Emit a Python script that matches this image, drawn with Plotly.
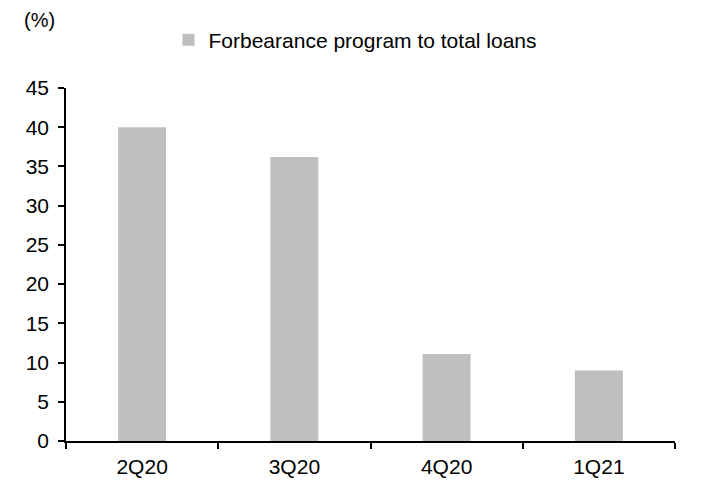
import plotly.graph_objects as go

categories = ["2Q20", "3Q20", "4Q20", "1Q21"]
values = [40.0, 36.2, 11.1, 9.0]
series_name = "Forbearance program to total loans"
y_ticks = [0, 5, 10, 15, 20, 25, 30, 35, 40, 45]

FONT = "Liberation Sans, Arial, sans-serif"

L, R, T, B = 66, 32, 88, 41
W, H = 707, 482
PW, PH = W - L - R, H - T - B

fig = go.Figure()
fig.add_trace(go.Bar(
    x=categories, y=values, name=series_name,
    marker=dict(color="#BFBFBF", line=dict(width=0)),
    showlegend=True,
))

fig.update_layout(
    width=W, height=H,
    margin=dict(l=L, r=R, t=T, b=B, autoexpand=False),
    paper_bgcolor="white", plot_bgcolor="white",
    font=dict(family=FONT, size=21, color="black"),
    bargap=0.685,
    showlegend=True,
    legend=dict(
        orientation="h", x=(168.5 - L) / PW, xanchor="left",
        y=1 + (T - 40) / PH, yanchor="middle",
        font=dict(size=21), bgcolor="rgba(0,0,0,0)",
    ),
    xaxis=dict(
        type="category", showline=True, linecolor="black", linewidth=2,
        ticks="outside", tickson="boundaries", ticklen=6, tickcolor="black",
        tickwidth=1.5, showgrid=False, zeroline=False,
        tickfont=dict(size=21), ticklabelstandoff=6,
    ),
    yaxis=dict(
        range=[0, 45], tickvals=y_ticks, showline=True, linecolor="black",
        linewidth=1.5, ticks="outside", ticklen=6, tickcolor="black",
        tickwidth=1.5, showgrid=False, zeroline=False,
        tickfont=dict(size=21), ticklabelstandoff=5,
    ),
    annotations=[dict(
        text="(%)", xref="paper", yref="paper",
        x=(22 - L) / PW, xanchor="left", y=1 + (T - 20) / PH, yanchor="middle",
        showarrow=False, font=dict(size=20),
    )],
)

fig.write_html("out.html")
